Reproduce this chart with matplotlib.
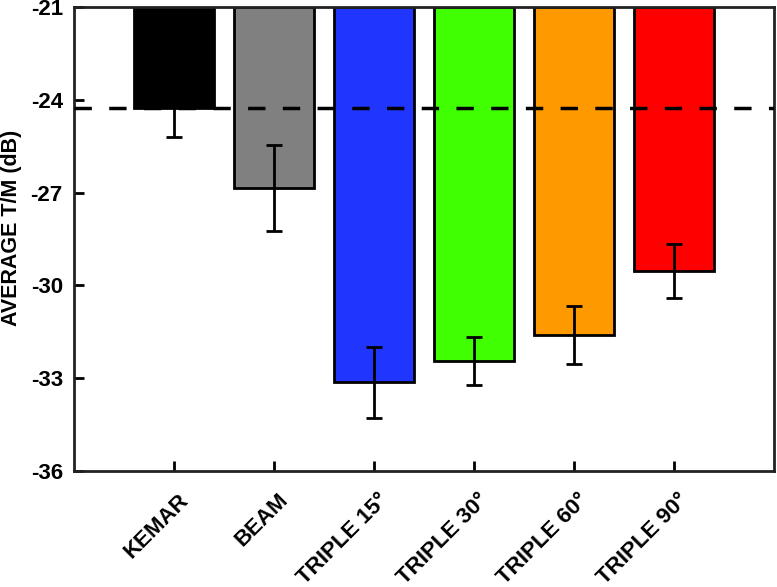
import numpy as np
import matplotlib.pyplot as plt
import matplotlib.transforms as mtransforms

plt.rcParams['font.family'] = ['Liberation Sans', 'DejaVu Sans']
plt.rcParams['font.weight'] = 'bold'
plt.rcParams['axes.unicode_minus'] = False

# data
labels = ['KEMAR', 'BEAM', 'TRIPLE 15°', 'TRIPLE 30°', 'TRIPLE 60°', 'TRIPLE 90°']
means = [-24.26, -26.85, -33.13, -32.45, -31.62, -29.54]
errs = [0.93, 1.39, 1.15, 0.79, 0.94, 0.87]
colors = ['#000000', '#808080', '#2036ff', '#40ff00', '#ff9900', '#ff0000']
ref_level = -24.26
top = -21

fig = plt.figure(figsize=(7.77, 5.87), dpi=100)
ax = fig.add_axes([0.0952, 0.198, 0.901, 0.7896])

x = np.arange(1, len(labels) + 1)
heights = [m - top for m in means]
ax.bar(x, heights, bottom=top, width=0.8, color=colors, edgecolor='black', linewidth=2, zorder=2)
ax.errorbar(x, means, yerr=errs, fmt='none', ecolor='black', elinewidth=2,
            capsize=6, capthick=2, zorder=3)
ax.axhline(ref_level, color='black', linestyle=(0, (5, 5)), linewidth=2.5, zorder=4)

ax.set_xlim(0, 7)
ax.set_ylim(-36, -21)
ax.set_yticks(np.arange(-36, -20, 3))
ax.set_xticks(x)
ax.set_xticklabels([''] * len(x))

# rotated category labels, shifted a bit right of the ticks
offset = mtransforms.ScaledTranslation(4 / 100, -19 / 100, fig.dpi_scale_trans)
for xi, lab in zip(x, labels):
    ax.text(xi, 0, lab, transform=ax.get_xaxis_transform() + offset, rotation=45,
            ha='right', va='top', rotation_mode='anchor', fontsize=16, fontweight='bold')

for t in ax.get_yticklabels():
    t.set_fontsize(16)
    t.set_fontweight('bold')
ax.set_ylabel('AVERAGE T/M (dB)', fontsize=15.5, fontweight='bold', va='center')
ax.yaxis.set_label_coords(-0.089, 0.525)
ax.tick_params(direction='in', length=7, width=2)
ax.tick_params(axis='y', pad=8)
for s in ax.spines.values():
    s.set_linewidth(2)
    s.set_color('#222222')

fig.savefig('out.png', dpi=100)
